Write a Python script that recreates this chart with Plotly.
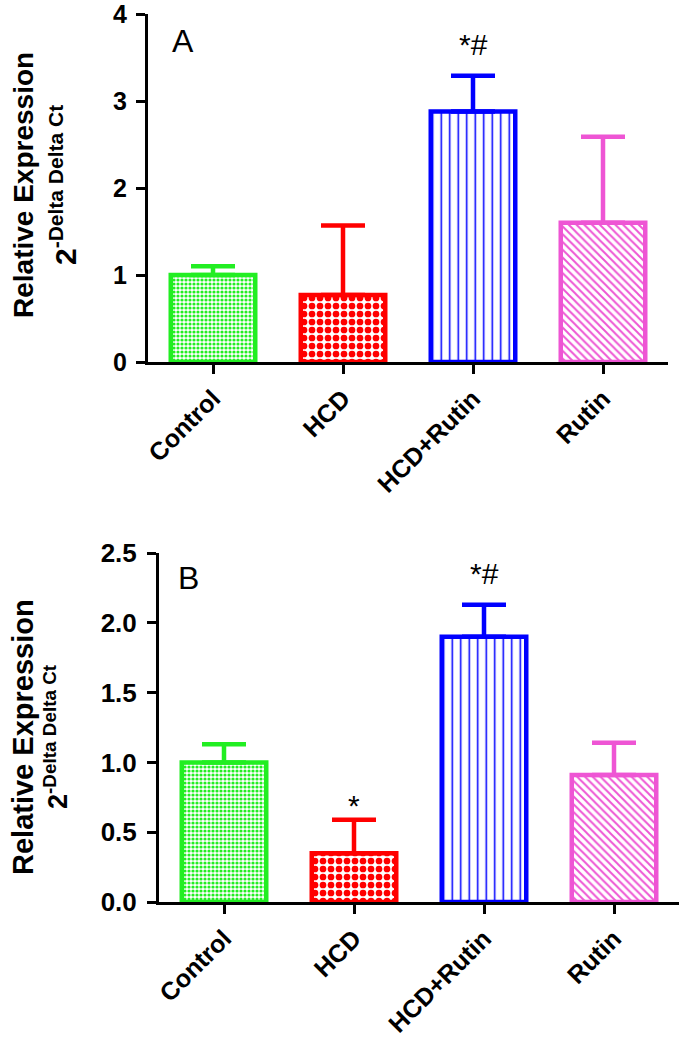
import plotly.graph_objects as go

categories = ["Control", "HCD", "HCD+Rutin", "Rutin"]
a_mean = [1.00, 0.77, 2.88, 1.60]
a_err = [0.10, 0.80, 0.41, 0.99]
a_sig = ["", "", "*#", ""]
b_mean = [1.00, 0.35, 1.90, 0.91]
b_err = [0.13, 0.24, 0.23, 0.23]
b_sig = ["", "*", "*#", ""]

colors = ["#22EE22", "#FF0000", "#0000FF", "#EE55D4"]
patterns = [
    dict(shape=".", size=4, solidity=0.5),
    dict(shape=".", size=8, solidity=0.55),
    dict(shape="|", size=8.5, solidity=0.18),
    dict(shape="\\", size=5.5, solidity=0.35),
]

FONT = "Liberation Sans, Arial, Helvetica, sans-serif"
W, H = 685, 1041

fig = go.Figure()


def add_panel(means, errs, sigs, xa, ya):
    for i, cat in enumerate(categories):
        fig.add_trace(go.Bar(
            x=[cat], y=[means[i]], width=0.65,
            xaxis=xa, yaxis=ya,
            marker=dict(color="white", line=dict(color=colors[i], width=4.5),
                        pattern=dict(fgcolor=colors[i], bgcolor="white",
                                     fillmode="replace", **patterns[i])),
            error_y=dict(type="data", array=[errs[i]], arrayminus=[0],
                         symmetric=False, color=colors[i], thickness=4.5, width=22),
            showlegend=False, hoverinfo="skip",
        ))
        if sigs[i]:
            fig.add_annotation(
                x=cat, y=means[i] + errs[i], xref=xa, yref=ya,
                text=sigs[i], showarrow=False, yanchor="bottom",
                yshift=13 if sigs[i] == "*#" else -4,
                font=dict(family=FONT, size=30, color="black"),
            )


add_panel(a_mean, a_err, a_sig, "x", "y")
add_panel(b_mean, b_err, b_sig, "x2", "y2")

axis_common = dict(showline=True, linewidth=3, linecolor="black", ticks="outside",
                   ticklen=9, tickwidth=3, tickcolor="black", showgrid=False,
                   zeroline=False, automargin=False, ticklabeloverflow="allow")
xfont = dict(family=FONT, size=25, color="black", weight="bold")
yfontA = dict(family=FONT, size=25, color="black", weight="bold")
yfontB = dict(family=FONT, size=26, color="black", weight="bold")

fig.update_layout(
    width=W, height=H, margin=dict(l=0, r=0, t=0, b=0, autoexpand=False),
    plot_bgcolor="white", paper_bgcolor="white", barmode="overlay",
    xaxis=dict(domain=[148 / W, 668 / W], range=[-0.5, 3.5], tickangle=-45,
               tickfont=xfont, anchor="y", **axis_common),
    yaxis=dict(domain=[679 / H, 1027 / H], range=[0, 4], dtick=1,
               tickfont=yfontA, anchor="x", ticklabelstandoff=4, **axis_common),
    xaxis2=dict(domain=[159 / W, 679 / W], range=[-0.5, 3.5], tickangle=-45,
                tickfont=xfont, anchor="y2", **axis_common),
    yaxis2=dict(domain=[139 / H, 488 / H], range=[0, 2.5], dtick=0.5,
                tickformat=".1f", tickfont=yfontB, anchor="x2", ticklabelstandoff=5,
                **axis_common),
)

# panel letters
fig.add_annotation(x=183 / W, y=1 - 41 / H, xref="paper", yref="paper", text="A",
                   xanchor="center", yanchor="middle", showarrow=False,
                   font=dict(family=FONT, size=32, color="black"))
fig.add_annotation(x=188 / W, y=1 - 578 / H, xref="paper", yref="paper", text="B",
                   xanchor="center", yanchor="middle", showarrow=False,
                   font=dict(family=FONT, size=32, color="black"))

# y titles
for cy, x1, x2, s1, s2 in [(185, 24, 63, 28, 30), (737, 23, 56, 29, 27)]:
    fig.add_annotation(x=x1 / W, y=1 - cy / H, xref="paper", yref="paper",
                       text="Relative Expression", textangle=-90, showarrow=False,
                       xanchor="center", yanchor="middle",
                       font=dict(family=FONT, size=s1, color="black", weight="bold"))
    fig.add_annotation(x=x2 / W, y=1 - cy / H, xref="paper", yref="paper",
                       text="2<sup>-Delta Delta Ct</sup>", textangle=-90, showarrow=False,
                       xanchor="center", yanchor="middle",
                       font=dict(family=FONT, size=s2, color="black", weight="bold"))

fig.write_html("out.html", config={"displayModeBar": False},
               post_script="document.body.style.margin='0px';")
